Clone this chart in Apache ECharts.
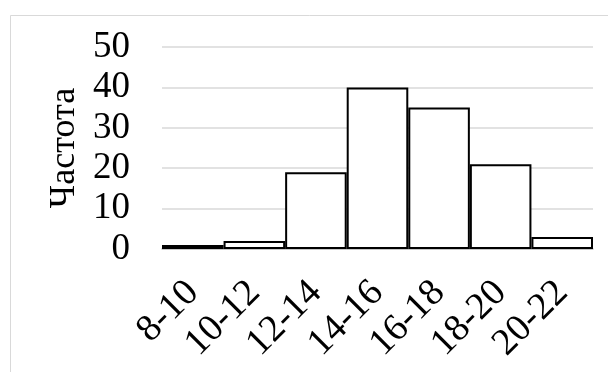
<!DOCTYPE html>
<html>
<head>
<meta charset="utf-8">
<script src="https://cdn.jsdelivr.net/npm/echarts@6/dist/echarts.min.js"></script>
<style>html,body{margin:0;padding:0;background:#fff}#c{width:608px;height:372px}</style>
</head>
<body>
<div id="c"></div>
<script>
const categories = ['8-10', '10-12', '12-14', '14-16', '16-18', '18-20', '20-22'];
const frequencies = [1, 2, 19, 40, 35, 21, 3];
const yAxisName = 'Частота';

const FONT = '"Liberation Serif", "Times New Roman", serif';
const chart = echarts.init(document.getElementById('c'), null, {renderer: 'canvas'});
chart.setOption({
  backgroundColor: '#fff',
  animation: false,
  graphic: [{
    type: 'rect', left: 8, top: 13,
    shape: {x: 0, y: 0, width: 700, height: 500},
    style: {fill: 'none', stroke: '#d9d9d9', lineWidth: 1}
  }],
  grid: {left: 162, right: 15, top: 47, bottom: 123},
  xAxis: {
    type: 'category',
    data: categories,
    axisLine: {lineStyle: {color: '#bfbfbf', width: 1.5}},
    axisTick: {show: false},
    axisLabel: {interval: 0, rotate: 45, margin: 38, color: '#000', fontFamily: FONT, fontSize: 38}
  },
  yAxis: {
    type: 'value', min: 0, max: 50, interval: 10,
    name: yAxisName, nameLocation: 'middle', nameGap: 78, nameRotate: 90,
    nameTextStyle: {color: '#000', fontFamily: FONT, fontSize: 36},
    axisLine: {show: false}, axisTick: {show: false},
    axisLabel: {color: '#000', fontFamily: FONT, fontSize: 37, margin: 32},
    splitLine: {lineStyle: {color: '#d9d9d9', width: 1.5}}
  },
  series: [{
    type: 'bar',
    data: frequencies,
    barCategoryGap: '0%',
    itemStyle: {color: '#fff', borderColor: '#000', borderWidth: 2}
  }]
});
</script>
</body>
</html>
